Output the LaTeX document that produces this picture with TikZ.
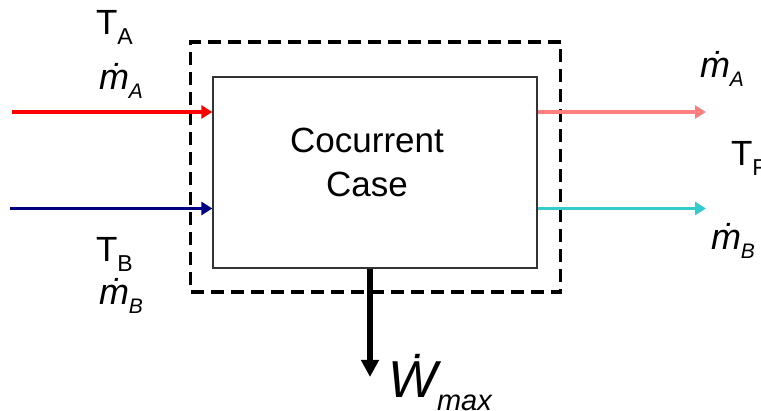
\documentclass[tikz,border=0pt]{standalone}
\usepackage{fontspec}
\setmainfont{Liberation Sans}
\usetikzlibrary{arrows.meta}
\definecolor{hotred}{RGB}{255,0,0}
\definecolor{navyb}{RGB}{0,0,128}
\definecolor{pinkr}{RGB}{255,128,128}
\definecolor{cyanb}{RGB}{51,204,204}
\newcommand{\mdotsub}[1]{{\fontsize{36}{36}\selectfont\itshape\.{m}}\raisebox{-9pt}{\fontsize{21}{21}\selectfont\itshape #1}}
\newcommand{\Tsub}[1]{{\fontsize{35}{35}\selectfont T}\raisebox{-10pt}{\fontsize{23}{23}\selectfont #1}}
\begin{document}
\begin{tikzpicture}[x=1pt,y=-1pt,
  lbl/.style={anchor=base west,inner sep=0pt,outer sep=0pt},
  flow/.style={line width=3.8pt,-{Triangle[length=11pt,width=13pt]}},
  proc/.style={draw=black!80,line width=1.3pt,fill=white,minimum width=324pt,minimum height=191pt,inner sep=0pt},
  ptext/.style={inner sep=0pt,align=center,font=\fontsize{35}{44}\selectfont},
  cv/.style={draw,line width=3.5pt,dash pattern=on 13pt off 7pt,minimum width=370pt,minimum height=250pt,inner sep=0pt}]
\useasboundingbox (0,0) rectangle (761,411);
% control volume
\node[cv] (cvol) at (375.5,167) {};
% process box
\node[proc] (box) at (375,172.5) {};
\node[ptext] (boxtext) at (367,162) {Cocurrent\\Case};
% free ends
\coordinate (inA) at (12,112);
\coordinate (inB) at (10,208.5);
\coordinate (outA) at (706,112);
\coordinate (outB) at (706,208.5);
\coordinate (wout) at (370,377);
% flows
\draw[flow,hotred] (inA) -- (inA -| box.west);
\draw[flow,navyb] (inB) -- (inB -| box.west);
\draw[flow,pinkr] (outA -| box.east) -- (outA);
\draw[flow,cyanb] (outB -| box.east) -- (outB);
\draw[line width=5.5pt,-{Triangle[length=17pt,width=17pt]}] (wout |- box.south) -- (wout);
% labels
\node[lbl] (tA) at (96,35) {\Tsub{A}};
\node[lbl] (mA) at (99,90) {\mdotsub{A}};
\node[lbl] (tB) at (96,262) {\Tsub{B}};
\node[lbl] (mB) at (99,305) {\mdotsub{B}};
\node[lbl] (mAo) at (700,78) {\mdotsub{A}};
\node[lbl] (tF) at (731,166) {\Tsub{F}};
\node[lbl] (mBo) at (711,250) {\mdotsub{B}};
\node[lbl] (wmax) at (388,398) {{\fontsize{52}{52}\selectfont\itshape\.{W}}\raisebox{-13pt}{\fontsize{29}{29}\selectfont\itshape max}};
\end{tikzpicture}
\end{document}
